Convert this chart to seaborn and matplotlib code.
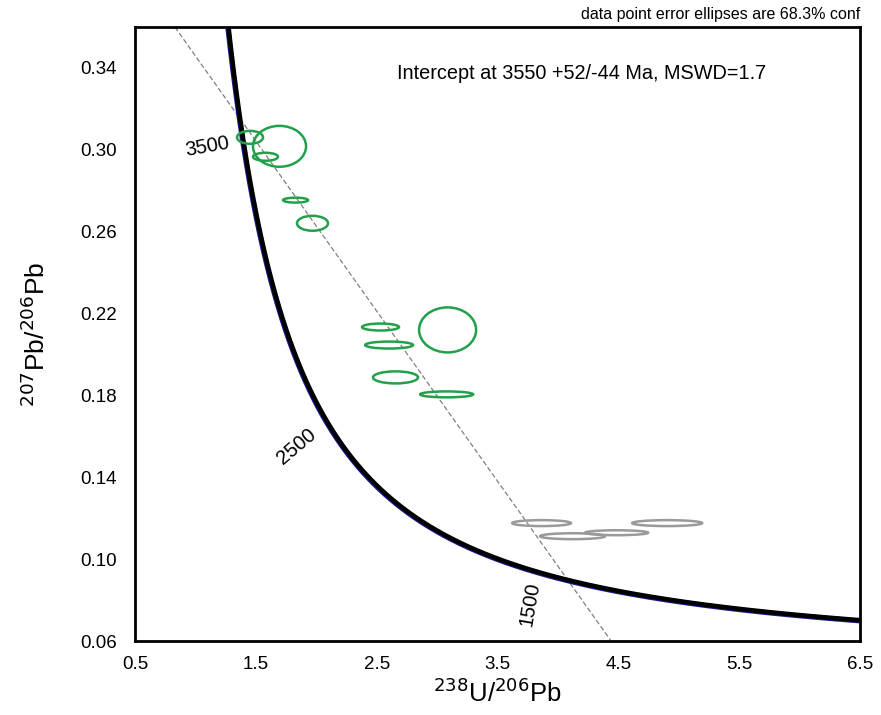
import numpy as np
import matplotlib
matplotlib.use("Agg")
import matplotlib.pyplot as plt
from matplotlib.patches import Ellipse
from matplotlib.ticker import MultipleLocator, FixedLocator
import seaborn as sns
import pandas as pd

# ---- data ----
# green (analyses used) error ellipses: centre x, centre y, full width, full height
green_x = [1.452, 1.696, 1.580, 1.829, 1.969, 2.532, 2.603, 3.087, 2.656, 3.079]
green_y = [0.3061, 0.3017, 0.2966, 0.2754, 0.2641, 0.2134, 0.2046, 0.2120, 0.1888, 0.1805]
green_w = [0.215, 0.439, 0.207, 0.207, 0.257, 0.306, 0.397, 0.472, 0.373, 0.439]
green_h = [0.0063, 0.0200, 0.0039, 0.0024, 0.0073, 0.0034, 0.0034, 0.0220, 0.0059, 0.0029]

# gray (excluded) error ellipses
gray_x = [3.865, 4.122, 4.486, 4.904]
gray_y = [0.1176, 0.1112, 0.1129, 0.1176]
gray_w = [0.488, 0.538, 0.522, 0.580]
gray_h = [0.0029, 0.0029, 0.0024, 0.0029]

# discordia line (regression) end points
disc_x = [0.83, 4.44]
disc_y = [0.36, 0.06]

# concordia ages (Ma) and labelled ages
label_ages = [3500, 2500, 1500]
lam238 = 1.55125e-10
lam235 = 9.8485e-10
U_ratio = 137.88

x_ticks = [0.5, 1.5, 2.5, 3.5, 4.5, 5.5, 6.5]
y_ticks = [0.06, 0.10, 0.14, 0.18, 0.22, 0.26, 0.30, 0.34]

def tw(age_ma):
    t = np.asarray(age_ma, dtype=float) * 1e6
    e8 = np.exp(lam238 * t) - 1
    e5 = np.exp(lam235 * t) - 1
    return 1.0 / e8, e5 / e8 / U_ratio

ages = np.linspace(900, 4200, 800)
cx, cy = tw(ages)
conc = pd.DataFrame({"x": cx, "y": cy})
disc = pd.DataFrame({"x": disc_x, "y": disc_y})

sns.set_style("white")
plt.rcParams['font.family'] = ['Liberation Sans', 'DejaVu Sans']
plt.rcParams['text.color'] = 'black'
plt.rcParams['axes.labelcolor'] = 'black'
plt.rcParams['xtick.color'] = 'black'
plt.rcParams['ytick.color'] = 'black'

fig = plt.figure(figsize=(8.81, 7.15), dpi=100)
ax = fig.add_axes([135/881, 74/715, 725/881, 614/715])

# discordia
sns.lineplot(data=disc, x="x", y="y", ax=ax, color="#808080", lw=0.9,
             linestyle=(0, (4, 2)), sort=False, zorder=2)

# concordia: blue fringe + black
sns.lineplot(data=conc, x="x", y="y", ax=ax, color="#1a1a8c", lw=3.6,
             sort=False, zorder=3)
sns.lineplot(data=conc, x="x", y="y", ax=ax, color="black", lw=3.3,
             sort=False, zorder=4)
ax.lines[-1].set_transform(ax.lines[-1].get_transform() +
                           matplotlib.transforms.ScaledTranslation(0.7/100, 0.7/100, fig.dpi_scale_trans))

# ellipses
for x, y, w, h in zip(green_x, green_y, green_w, green_h):
    ax.add_patch(Ellipse((x, y), w, h, fill=False, ec="#22a04b", lw=1.8, zorder=5))
for x, y, w, h in zip(gray_x, gray_y, gray_w, gray_h):
    ax.add_patch(Ellipse((x, y), w, h, fill=False, ec="#9a9a9a", lw=1.8, zorder=5))

# age labels on concordia
offsets = {3500: (-35, 9, 10), 2500: (-33, 19, 40), 1500: (-6, 32, 80)}
for a in label_ages:
    px, py = tw(a)
    dx, dy, rot = offsets[a]
    ax.annotate(str(a), (px, py), xytext=(dx, -dy), textcoords="offset pixels",
                ha="center", va="center", rotation=rot, fontsize=14.5,
                color="black", zorder=6)

ax.set_xlim(0.5, 6.5)
ax.set_ylim(0.06, 0.36)
ax.xaxis.set_major_locator(FixedLocator(x_ticks))
ax.xaxis.set_minor_locator(MultipleLocator(0.5))
ax.yaxis.set_major_locator(FixedLocator(y_ticks))
ax.yaxis.set_minor_locator(MultipleLocator(0.02))
ax.set_xticklabels([f"{v:.1f}" for v in x_ticks])
ax.set_yticklabels([f"{v:.2f}" for v in y_ticks])
ax.tick_params(which="both", direction="in", length=6, width=1.5, color="black",
               labelsize=13.5)
ax.tick_params(axis="y", which="major", pad=13)
ax.tick_params(axis="x", which="major", pad=11)
for s in ax.spines.values():
    s.set_visible(True)
    s.set_color("black")
    s.set_linewidth(2)

ax.set_xlabel(r"$^{238}$U/$^{206}$Pb", fontsize=18.5, labelpad=4)
ax.set_ylabel(r"$^{207}$Pb/$^{206}$Pb", fontsize=19, labelpad=22)

ax.text((397 - 135) / 725, 0.925, "Intercept at 3550 +52/-44 Ma, MSWD=1.7",
        transform=ax.transAxes, fontsize=14.3, ha="left", va="center")
fig.text(860/881, 1 - 15/715, "data point error ellipses are 68.3% conf",
         fontsize=11.5, ha="right", va="center")

fig.savefig("out.png", dpi=100)
